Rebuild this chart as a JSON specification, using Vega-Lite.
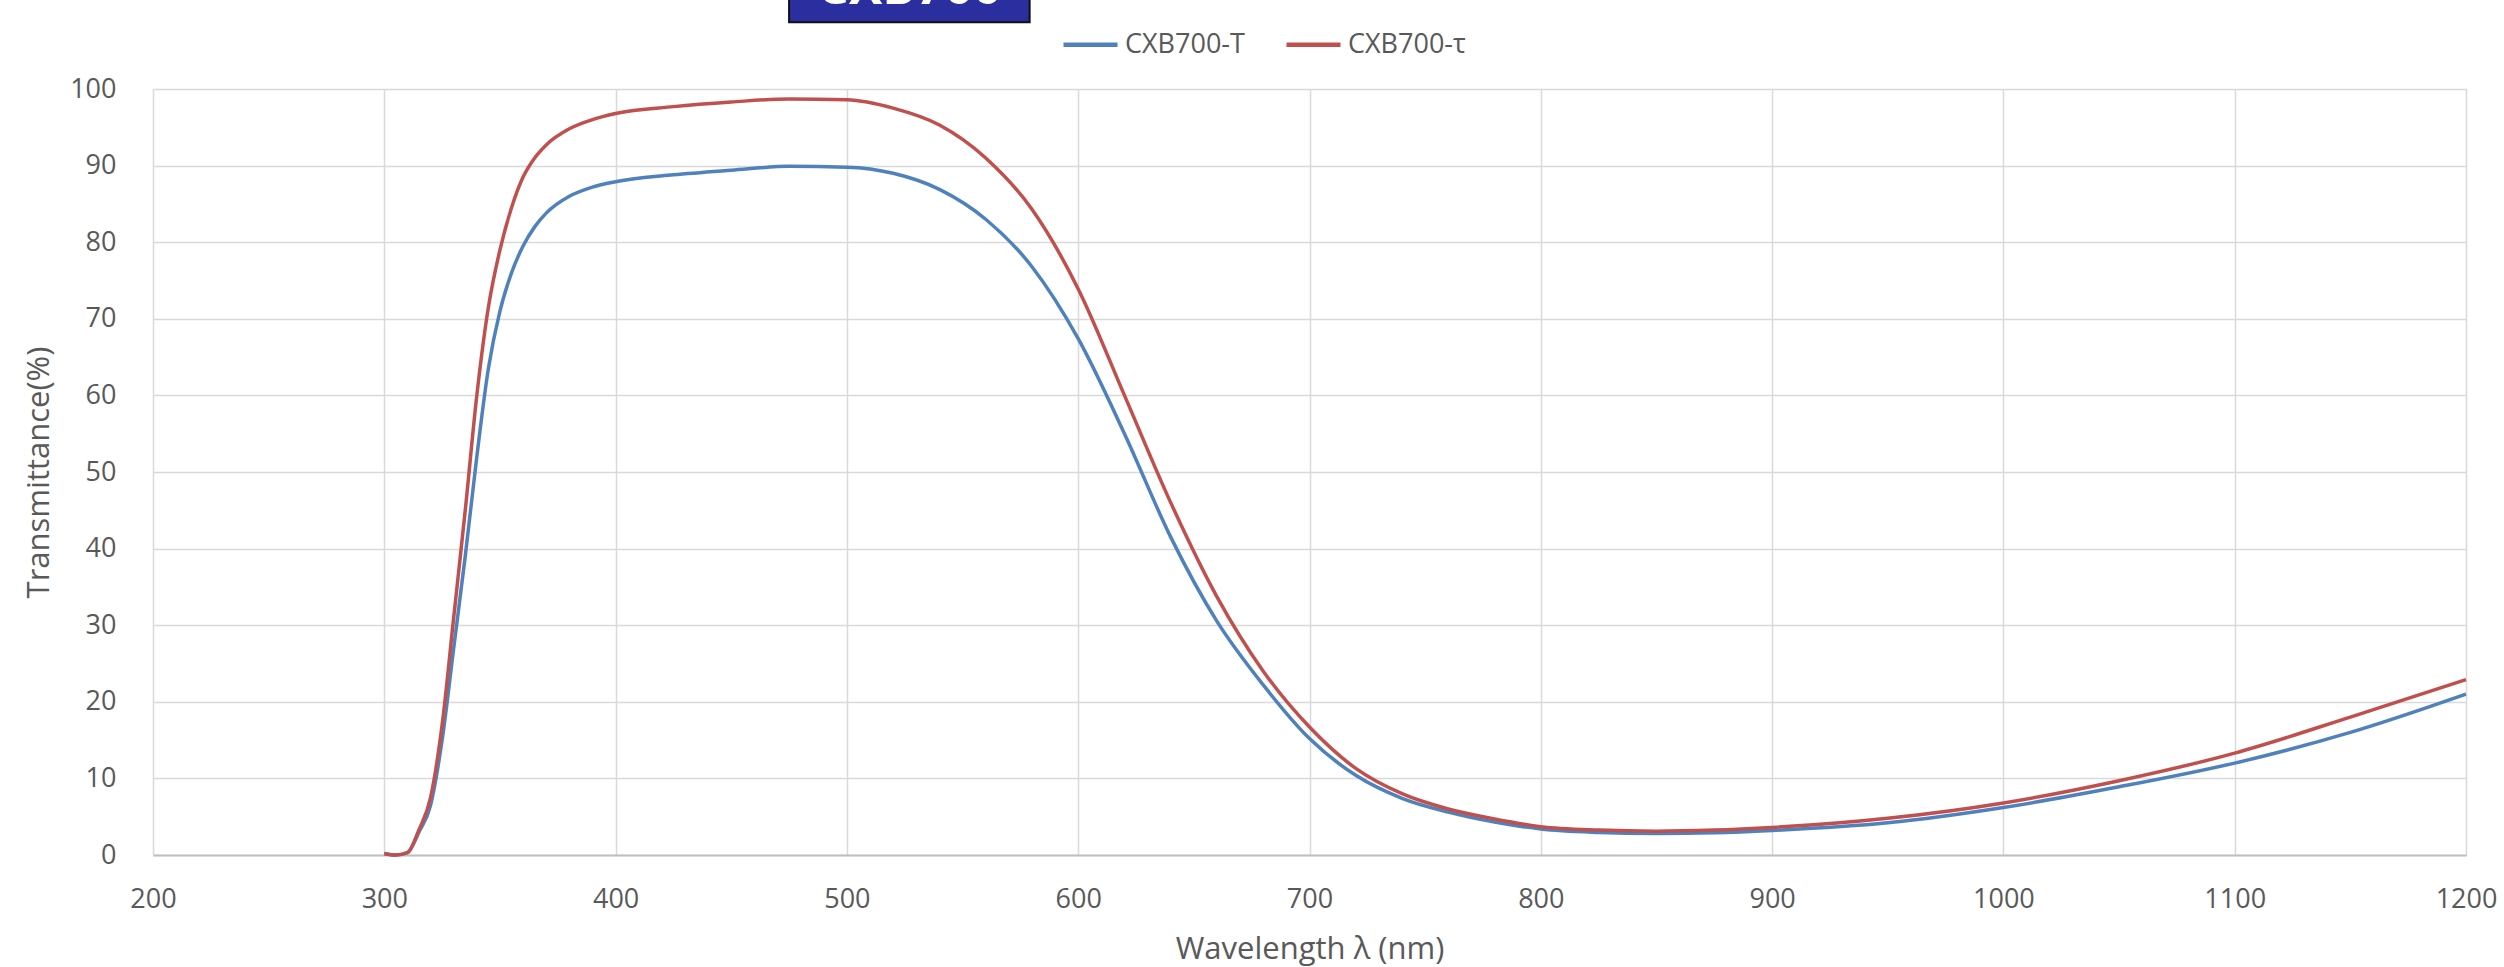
{
  "$schema": "https://vega.github.io/schema/vega-lite/v6.json",
  "width": 2313,
  "height": 766,
  "autosize": {"type": "none"},
  "padding": {"left": 153, "top": 89, "right": 38, "bottom": 112},
  "background": "white",
  "config": {
    "font": "Open Sans",
    "view": {"stroke": null},
    "axis": {"labelFont": "Open Sans", "titleFont": "Open Sans", "labelColor": "#595959", "titleColor": "#595959", "titleFontWeight": "normal"}
  },
  "datasets": {
    "curves": [
      {"wl": 300, "s": "CXB700-T", "v": 0.2}, {"wl": 305, "s": "CXB700-T", "v": 0.0}, {"wl": 310, "s": "CXB700-T", "v": 0.3},
      {"wl": 315, "s": "CXB700-T", "v": 3.0}, {"wl": 320, "s": "CXB700-T", "v": 6.5}, {"wl": 325, "s": "CXB700-T", "v": 15},
      {"wl": 330, "s": "CXB700-T", "v": 27}, {"wl": 335, "s": "CXB700-T", "v": 39}, {"wl": 340, "s": "CXB700-T", "v": 52},
      {"wl": 345, "s": "CXB700-T", "v": 63.5}, {"wl": 350, "s": "CXB700-T", "v": 71}, {"wl": 355, "s": "CXB700-T", "v": 76},
      {"wl": 360, "s": "CXB700-T", "v": 79.5}, {"wl": 365, "s": "CXB700-T", "v": 82}, {"wl": 370, "s": "CXB700-T", "v": 83.8},
      {"wl": 380, "s": "CXB700-T", "v": 86},
      {"wl": 390, "s": "CXB700-T", "v": 87.2}, {"wl": 400, "s": "CXB700-T", "v": 87.9}, {"wl": 425, "s": "CXB700-T", "v": 88.8},
      {"wl": 450, "s": "CXB700-T", "v": 89.4}, {"wl": 475, "s": "CXB700-T", "v": 89.9}, {"wl": 500, "s": "CXB700-T", "v": 89.8},
      {"wl": 520, "s": "CXB700-T", "v": 89}, {"wl": 540, "s": "CXB700-T", "v": 86.9}, {"wl": 560, "s": "CXB700-T", "v": 83},
      {"wl": 580, "s": "CXB700-T", "v": 76.8}, {"wl": 600, "s": "CXB700-T", "v": 67.4}, {"wl": 620, "s": "CXB700-T", "v": 55},
      {"wl": 640, "s": "CXB700-T", "v": 41.5}, {"wl": 660, "s": "CXB700-T", "v": 30.5}, {"wl": 680, "s": "CXB700-T", "v": 22.2},
      {"wl": 700, "s": "CXB700-T", "v": 15.2}, {"wl": 720, "s": "CXB700-T", "v": 10.4}, {"wl": 740, "s": "CXB700-T", "v": 7.4},
      {"wl": 760, "s": "CXB700-T", "v": 5.6}, {"wl": 780, "s": "CXB700-T", "v": 4.3}, {"wl": 800, "s": "CXB700-T", "v": 3.4},
      {"wl": 825, "s": "CXB700-T", "v": 2.95}, {"wl": 850, "s": "CXB700-T", "v": 2.8}, {"wl": 875, "s": "CXB700-T", "v": 2.9},
      {"wl": 900, "s": "CXB700-T", "v": 3.2}, {"wl": 950, "s": "CXB700-T", "v": 4.2}, {"wl": 1000, "s": "CXB700-T", "v": 6.2},
      {"wl": 1050, "s": "CXB700-T", "v": 8.9}, {"wl": 1100, "s": "CXB700-T", "v": 12}, {"wl": 1150, "s": "CXB700-T", "v": 16},
      {"wl": 1200, "s": "CXB700-T", "v": 21},
      {"wl": 300, "s": "CXB700-τ", "v": 0.2}, {"wl": 305, "s": "CXB700-τ", "v": 0.0}, {"wl": 310, "s": "CXB700-τ", "v": 0.3},
      {"wl": 315, "s": "CXB700-τ", "v": 3.3}, {"wl": 320, "s": "CXB700-τ", "v": 7.5}, {"wl": 325, "s": "CXB700-τ", "v": 17},
      {"wl": 330, "s": "CXB700-τ", "v": 31}, {"wl": 335, "s": "CXB700-τ", "v": 45}, {"wl": 340, "s": "CXB700-τ", "v": 60},
      {"wl": 345, "s": "CXB700-τ", "v": 71.5}, {"wl": 350, "s": "CXB700-τ", "v": 79}, {"wl": 355, "s": "CXB700-τ", "v": 84.5},
      {"wl": 360, "s": "CXB700-τ", "v": 88.5}, {"wl": 365, "s": "CXB700-τ", "v": 91}, {"wl": 370, "s": "CXB700-τ", "v": 92.7},
      {"wl": 380, "s": "CXB700-τ", "v": 94.8},
      {"wl": 390, "s": "CXB700-τ", "v": 96}, {"wl": 400, "s": "CXB700-τ", "v": 96.8}, {"wl": 425, "s": "CXB700-τ", "v": 97.7},
      {"wl": 450, "s": "CXB700-τ", "v": 98.3}, {"wl": 475, "s": "CXB700-τ", "v": 98.7}, {"wl": 500, "s": "CXB700-τ", "v": 98.6},
      {"wl": 520, "s": "CXB700-τ", "v": 97.5}, {"wl": 540, "s": "CXB700-τ", "v": 95.3}, {"wl": 560, "s": "CXB700-τ", "v": 91},
      {"wl": 580, "s": "CXB700-τ", "v": 84.3}, {"wl": 600, "s": "CXB700-τ", "v": 73.9}, {"wl": 620, "s": "CXB700-τ", "v": 60},
      {"wl": 640, "s": "CXB700-τ", "v": 46}, {"wl": 660, "s": "CXB700-τ", "v": 33.7}, {"wl": 680, "s": "CXB700-τ", "v": 24},
      {"wl": 700, "s": "CXB700-τ", "v": 16.7}, {"wl": 720, "s": "CXB700-τ", "v": 11.3}, {"wl": 740, "s": "CXB700-τ", "v": 8.0},
      {"wl": 760, "s": "CXB700-τ", "v": 6.0}, {"wl": 780, "s": "CXB700-τ", "v": 4.7}, {"wl": 800, "s": "CXB700-τ", "v": 3.7},
      {"wl": 825, "s": "CXB700-τ", "v": 3.25}, {"wl": 850, "s": "CXB700-τ", "v": 3.1}, {"wl": 875, "s": "CXB700-τ", "v": 3.25},
      {"wl": 900, "s": "CXB700-τ", "v": 3.6}, {"wl": 950, "s": "CXB700-τ", "v": 4.8}, {"wl": 1000, "s": "CXB700-τ", "v": 6.8},
      {"wl": 1050, "s": "CXB700-τ", "v": 9.7}, {"wl": 1100, "s": "CXB700-τ", "v": 13.3}, {"wl": 1150, "s": "CXB700-τ", "v": 18},
      {"wl": 1200, "s": "CXB700-τ", "v": 22.9}
    ],
    "label": [{"name": "CXB700"}]
  },
  "layer": [
    {
      "data": {"name": "curves"},
      "mark": {"type": "line", "interpolate": "monotone", "strokeWidth": 3.5, "clip": false},
      "encoding": {
        "x": {
          "field": "wl", "type": "quantitative",
          "scale": {"domain": [200, 1200], "nice": false, "zero": false},
          "axis": {
            "title": "Wavelength λ (nm)", "values": [200, 300, 400, 500, 600, 700, 800, 900, 1000, 1100, 1200],
            "format": "d",
            "grid": true, "gridColor": "#d9d9d9", "gridWidth": 1.5,
            "domain": true, "domainColor": "#bfbfbf", "domainWidth": 2,
            "ticks": false, "tickSize": 0, "labelPadding": 31, "labelFontSize": 27,
            "titleFontSize": 31, "titlePadding": 22, "labelFlush": false
          }
        },
        "y": {
          "field": "v", "type": "quantitative",
          "scale": {"domain": [0, 100], "nice": false},
          "axis": {
            "title": "Transmittance(%)", "values": [0, 10, 20, 30, 40, 50, 60, 70, 80, 90, 100],
            "format": "d",
            "grid": true, "gridColor": "#d9d9d9", "gridWidth": 1.5,
            "domain": false, "ticks": false, "tickSize": 0, "labelPadding": 37, "labelFontSize": 27,
            "titleFontSize": 31, "titlePadding": 14, "labelFlush": false
          }
        },
        "color": {
          "field": "s", "type": "nominal",
          "scale": {"domain": ["CXB700-T", "CXB700-τ"], "range": ["#4f81bd", "#c0504d"]},
          "legend": {
            "title": null, "orient": "none", "direction": "horizontal",
            "legendX": 908, "legendY": -74,
            "symbolType": "stroke", "symbolSize": 2916, "symbolStrokeWidth": 4.5,
            "labelFontSize": 27, "labelColor": "#595959", "labelFont": "Open Sans",
            "labelOffset": 5, "columnPadding": 32
          }
        }
      }
    },
    {
      "data": {"name": "label"},
      "mark": {"type": "rect", "color": "#2b2e9e", "stroke": "#111111", "strokeWidth": 2, "clip": false},
      "encoding": {
        "x": {"datum": 475},
        "x2": {"datum": 579},
        "y": {"datum": 112},
        "y2": {"datum": 108.7}
      }
    },
    {
      "data": {"name": "label"},
      "mark": {"type": "text", "color": "white", "fontSize": 50, "fontWeight": "bold", "baseline": "alphabetic", "align": "center", "clip": false},
      "encoding": {
        "x": {"datum": 527},
        "y": {"datum": 111.1},
        "text": {"field": "name"}
      }
    }
  ]
}
